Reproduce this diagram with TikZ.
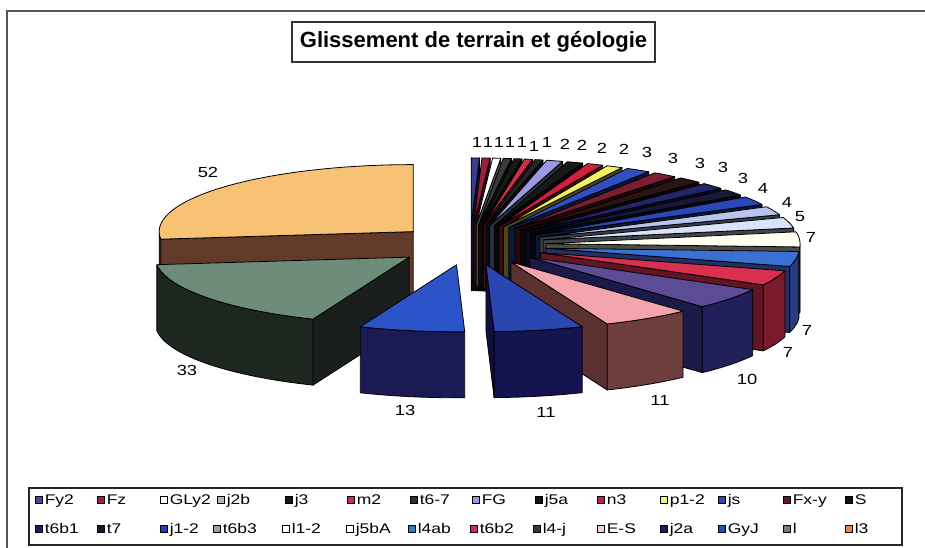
\documentclass[tikz,border=0pt]{standalone}
\usepackage{fontspec}
\setmainfont{Liberation Sans}
\newfontfamily\widefont[FakeStretch=1.25]{Liberation Sans}
% pie colours (top faces)
\definecolor{p1}{HTML}{3C3C8C}\definecolor{p2}{HTML}{A01E3C}\definecolor{p3}{HTML}{FFFFFF}
\definecolor{p4}{HTML}{3A3A3A}\definecolor{p5}{HTML}{1A1A1A}\definecolor{p6}{HTML}{C8304A}
\definecolor{p7}{HTML}{262626}\definecolor{p8}{HTML}{9A9AE0}\definecolor{p9}{HTML}{181818}
\definecolor{p10}{HTML}{D0203E}\definecolor{p11}{HTML}{F2F060}\definecolor{p12}{HTML}{3050C0}
\definecolor{p13}{HTML}{7A1E30}\definecolor{p14}{HTML}{2A1414}\definecolor{p15}{HTML}{24246A}
\definecolor{p16}{HTML}{181838}\definecolor{p17}{HTML}{2A48B8}\definecolor{p18}{HTML}{B8C4EC}
\definecolor{p19}{HTML}{D8E4FA}\definecolor{p20}{HTML}{FFFFF2}\definecolor{p21}{HTML}{3A72D4}
\definecolor{p22}{HTML}{D8304E}\definecolor{p23}{HTML}{5C4C96}\definecolor{p24}{HTML}{F4A4AC}
\definecolor{p25}{HTML}{2A46B0}\definecolor{p26}{HTML}{2C54C8}\definecolor{p27}{HTML}{6E8C7A}
\definecolor{p28}{HTML}{F8C274}
% special wall / cut-face colours
\definecolor{w21}{HTML}{2A3C80}\definecolor{w22}{HTML}{7A1A2A}\definecolor{w23}{HTML}{22205A}
\definecolor{w24}{HTML}{6E3E3E}\definecolor{f24}{HTML}{5A3030}\definecolor{w25}{HTML}{141450}
\definecolor{w26}{HTML}{1A1A55}\definecolor{w27}{HTML}{1E2620}\definecolor{f27}{HTML}{1A1E1C}
\definecolor{w28}{HTML}{7A4A30}\definecolor{f28}{HTML}{623A2A}
\definecolor{core}{HTML}{12121E}
% legend colours
\definecolor{l1}{HTML}{4A4A9A}\definecolor{l2}{HTML}{A0203C}\definecolor{l3}{HTML}{FFFFFF}
\definecolor{l4}{HTML}{B8B8B8}\definecolor{l5}{HTML}{181818}\definecolor{l6}{HTML}{C83252}
\definecolor{l7}{HTML}{303030}\definecolor{l8}{HTML}{9A9AD8}\definecolor{l9}{HTML}{141414}
\definecolor{l10}{HTML}{C81E46}\definecolor{l11}{HTML}{F0F080}\definecolor{l12}{HTML}{3048B0}
\definecolor{l13}{HTML}{5A1A2A}\definecolor{l14}{HTML}{1E0E0E}\definecolor{l15}{HTML}{1C1C64}
\definecolor{l16}{HTML}{181830}\definecolor{l17}{HTML}{1E40B8}\definecolor{l18}{HTML}{A0A0A0}
\definecolor{l19}{HTML}{FFFFFF}\definecolor{l20}{HTML}{FFFFFF}\definecolor{l21}{HTML}{3478C8}
\definecolor{l22}{HTML}{D02850}\definecolor{l23}{HTML}{383838}\definecolor{l24}{HTML}{F4D0D0}
\definecolor{l25}{HTML}{1A1A56}\definecolor{l26}{HTML}{2050B8}\definecolor{l27}{HTML}{7A7A7A}
\definecolor{l28}{HTML}{E8844A}
\definecolor{framegray}{HTML}{555555}

\def\PCX{470}\def\PCY{245}\def\PA{254}\def\PB{67}\def\PH{66}\def\PE{0.3}

% #1 start angle, #2 end angle (clockwise from 12 o'clock), #3 top colour, #4 wall colour, #5 cut-face colour
\newcommand\pslice[5]{%
  \pgfmathsetmacro\smid{(#1+#2)/2}
  \pgfmathsetmacro\sX{\PCX+\PE*\PA*sin(\smid)}
  \pgfmathsetmacro\sY{\PCY-\PE*\PB*cos(\smid)}
  \pgfmathsetmacro\sA{sin(#1)}
  \pgfmathsetmacro\sB{sin(#2)}
  \ifdim\sA pt<-0.01pt
    \filldraw[pieedge,fill=#5] (\sX,\sY) -- ({\sX+\PA*sin(#1)},{\sY-\PB*cos(#1)}) -- ++(0,\PH) -- (\sX,{\sY+\PH}) -- cycle;
  \fi
  \ifdim\sB pt>0.01pt
    \filldraw[pieedge,fill=#5] (\sX,\sY) -- ({\sX+\PA*sin(#2)},{\sY-\PB*cos(#2)}) -- ++(0,\PH) -- (\sX,{\sY+\PH}) -- cycle;
  \fi
  \pgfmathsetmacro\sLo{max(#1,90)}
  \pgfmathsetmacro\sHi{min(#2,270)}
  \pgfmathsetmacro\sD{\sHi-\sLo}
  \ifdim\sD pt>0.01pt
    \filldraw[pieedge,fill=#4] plot[domain=\sLo:\sHi,samples=40] ({\sX+\PA*sin(\x)},{\sY-\PB*cos(\x)}) -- plot[domain=\sHi:\sLo,samples=40] ({\sX+\PA*sin(\x)},{\sY-\PB*cos(\x)+\PH}) -- cycle;
  \fi
  \filldraw[pieedge,fill=#3] (\sX,\sY) -- plot[domain=#1:#2,samples=40] ({\sX+\PA*sin(\x)},{\sY-\PB*cos(\x)}) -- cycle;
}
\newcommand\qslice[3]{\pslice{#1}{#2}{#3}{#3!42!black}{#3!30!black}}

\begin{document}
\begin{tikzpicture}[x=0.75pt,y=-0.75pt,
  pieedge/.style={draw=black,line width=0.6pt,line join=round},
  lab/.style={font=\widefont\fontsize{11}{12}\selectfont,inner sep=0pt},
  lsq/.style={draw=black,line width=0.45pt,minimum size=5.25pt,inner sep=0pt},
  ltx/.style={anchor=base west,inner sep=0pt,font=\widefont\fontsize{10.5}{12}\selectfont}]
\useasboundingbox (0,0) rectangle (925,548);
\clip (0,0) rectangle (925,548);
\fill[white] (0,0) rectangle (925,548);
% outer frame
\draw[framegray,line width=1.1pt] (7,11) rectangle (940,565);
% title
\node[draw=black!80,line width=0.8pt,minimum width=272.25pt,minimum height=30pt,inner sep=0pt,
  font=\bfseries\fontsize{16.5}{20}\selectfont] (title) at (473.5,42) {Glissement de terrain et géologie};

% pie slices, back to front
\pslice{263.51}{360}{p28}{w28}{f28}
\pslice{202.27}{263.51}{p27}{w27}{f27}
% dark inner cut faces under the thin slices
\fill[core] plot[domain=0.93:86.3,samples=40] ({\PCX+\PE*\PA*sin(\x)},{\PCY-\PE*\PB*cos(\x)})
  -- plot[domain=86.3:0.93,samples=40] ({\PCX+\PE*\PA*sin(\x)},{\PCY-\PE*\PB*cos(\x)+\PH}) -- cycle;
\qslice{0}{1.856}{p1}
\qslice{1.856}{3.711}{p2}
\qslice{3.711}{5.567}{p3}
\qslice{5.567}{7.423}{p4}
\qslice{7.423}{9.278}{p5}
\qslice{9.278}{11.134}{p6}
\qslice{11.134}{12.990}{p7}
\qslice{12.990}{16.701}{p8}
\qslice{16.701}{20.412}{p9}
\qslice{20.412}{24.124}{p10}
\qslice{24.124}{27.835}{p11}
\qslice{27.835}{33.402}{p12}
\qslice{33.402}{38.969}{p13}
\qslice{38.969}{44.536}{p14}
\qslice{44.536}{50.103}{p15}
\qslice{50.103}{55.670}{p16}
\qslice{55.670}{63.093}{p17}
\qslice{63.093}{70.515}{p18}
\qslice{70.515}{79.794}{p19}
\qslice{79.794}{92.784}{p20}
\pslice{92.784}{105.773}{p21}{w21}{w21!80!black}
\pslice{105.773}{118.763}{p22}{w22}{w22!80!black}
\pslice{118.763}{137.320}{p23}{w23}{w23!80!black}
\pslice{137.320}{157.732}{p24}{w24}{f24}
\pslice{157.732}{178.144}{p25}{w25}{w25!80!black}
\pslice{178.144}{202.268}{p26}{w26}{w26!80!black}

% data labels
\node[lab] (v28) at (208,172) {52};
\node[lab] (v27) at (187,370) {33};
\node[lab] (v26) at (405,410) {13};
\node[lab] (v25) at (546,412) {11};
\node[lab] (v24) at (660,400) {11};
\node[lab] (v23) at (747,379) {10};
\node[lab] (v22) at (788,352) {7};
\node[lab] (v21) at (807,330) {7};
\node[lab] (v20) at (811,237) {7};
\node[lab] (v19) at (800,217) {5};
\node[lab] (v18) at (787,202) {4};
\node[lab] (v17) at (763,188) {4};
\node[lab] (v16) at (743,178) {3};
\node[lab] (v15) at (723,167) {3};
\node[lab] (v14) at (700,163) {3};
\node[lab] (v13) at (673,158) {3};
\node[lab] (v12) at (647,152) {3};
\node[lab] (v11) at (624,149) {2};
\node[lab] (v10) at (602,148) {2};
\node[lab] (v9) at (582,145) {2};
\node[lab] (v8) at (565,144) {2};
\node[lab] (v7) at (547,142) {1};
\node[lab] (v6) at (534,146) {1};
\node[lab] (v5) at (522,142) {1};
\node[lab] (v4) at (510,142) {1};
\node[lab] (v3) at (499,142) {1};
\node[lab] (v2) at (488,142) {1};
\node[lab] (v1) at (477,142) {1};

% legend
\node[draw=black!85,line width=0.9pt,minimum width=654.75pt,minimum height=42.75pt,inner sep=0pt] (legend) at (465.5,516.5) {};
\foreach \sx/\sy/\col/\txt [count=\i] in {
  35/500/l1/Fy2, 97/500/l2/Fz, 160/500/l3/GLy2, 217/500/l4/j2b, 285/500/l5/j3,
  347/500/l6/m2, 410/500/l7/t6-7, 472/500/l8/FG, 535/500/l9/j5a, 597/500/l10/n3,
  660/500/l11/p1-2, 718/500/l12/js, 783/500/l13/Fx-y, 845/500/l14/S,
  35/529/l15/t6b1, 97/529/l16/t7, 160/529/l17/j1-2, 213/529/l18/t6b3, 282/529/l19/l1-2,
  346/529/l20/j5bA, 408/529/l21/l4ab, 470/529/l22/t6b2, 533/529/l23/l4-j, 597/529/l24/E-S,
  660/529/l25/j2a, 718/529/l26/GyJ, 783/529/l27/l, 845/529/l28/l3}
{
  \node[lsq,fill=\col] (lsq\i) at ({\sx+3.5},\sy) {};
  \node[ltx] (ltx\i) at ({\sx+9.5},{\sy+4.5}) {\txt};
}
\end{tikzpicture}
\end{document}
